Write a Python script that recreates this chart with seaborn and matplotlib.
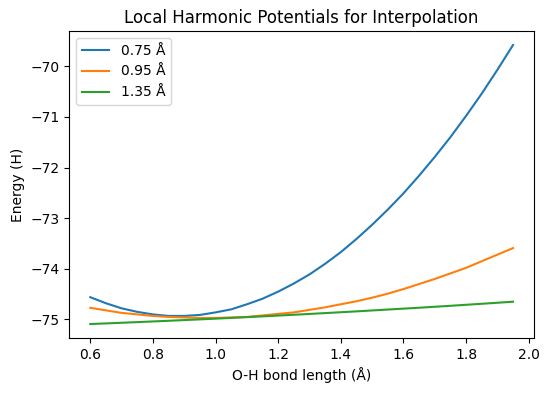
import matplotlib
matplotlib.use("Agg")
import matplotlib.pyplot as plt
import numpy as np
import pandas as pd
import seaborn as sns

# O-H bond length grid (Å) and energies (H)
bond_length = [0.60, 0.65, 0.70, 0.75, 0.80, 0.85, 0.90, 0.95, 1.00, 1.05,
               1.10, 1.15, 1.20, 1.25, 1.30, 1.35, 1.40, 1.45, 1.50, 1.55,
               1.60, 1.65, 1.70, 1.75, 1.80, 1.85, 1.90, 1.95]

energy_075 = [-74.56, -74.68, -74.78, -74.85, -74.90, -74.93, -74.93, -74.91, -74.86, -74.80,
              -74.70, -74.59, -74.45, -74.29, -74.11, -73.90, -73.67, -73.41, -73.13, -72.83,
              -72.51, -72.16, -71.79, -71.40, -70.98, -70.54, -70.07, -69.58]
energy_095 = [-74.77, -74.82, -74.87, -74.90, -74.93, -74.95, -74.96, -74.97, -74.97, -74.96,
              -74.95, -74.92, -74.89, -74.86, -74.81, -74.76, -74.70, -74.64, -74.57, -74.49,
              -74.40, -74.30, -74.20, -74.09, -73.98, -73.85, -73.72, -73.59]
energy_135 = [-75.090, -75.078, -75.065, -75.052, -75.039, -75.026, -75.012, -74.998, -74.984, -74.969,
              -74.954, -74.939, -74.923, -74.907, -74.891, -74.874, -74.857, -74.840, -74.822, -74.804,
              -74.786, -74.768, -74.749, -74.730, -74.710, -74.690, -74.670, -74.649]

series_labels = ["0.75 Å", "0.95 Å", "1.35 Å"]
series_values = [energy_075, energy_095, energy_135]
series_colors = ["#1f77b4", "#ff7f0e", "#2ca02c"]

fig, ax = plt.subplots(figsize=(5.49, 3.93), dpi=100)
fig.subplots_adjust(left=0.126, right=0.973, bottom=0.140, top=0.921)

for label, values, color in zip(series_labels, series_values, series_colors):
    df = pd.DataFrame({"r": bond_length, "E": values})
    sns.lineplot(data=df, x="r", y="E", ax=ax, color=color, label=label, linewidth=1.5)

ax.set_xticks(np.arange(0.6, 2.01, 0.2))
ax.set_xlabel("O-H bond length (Å)")
ax.set_ylabel("Energy (H)")
ax.set_title("Local Harmonic Potentials for Interpolation")
ax.legend(loc="upper left")

fig.savefig("out.png", dpi=100)
